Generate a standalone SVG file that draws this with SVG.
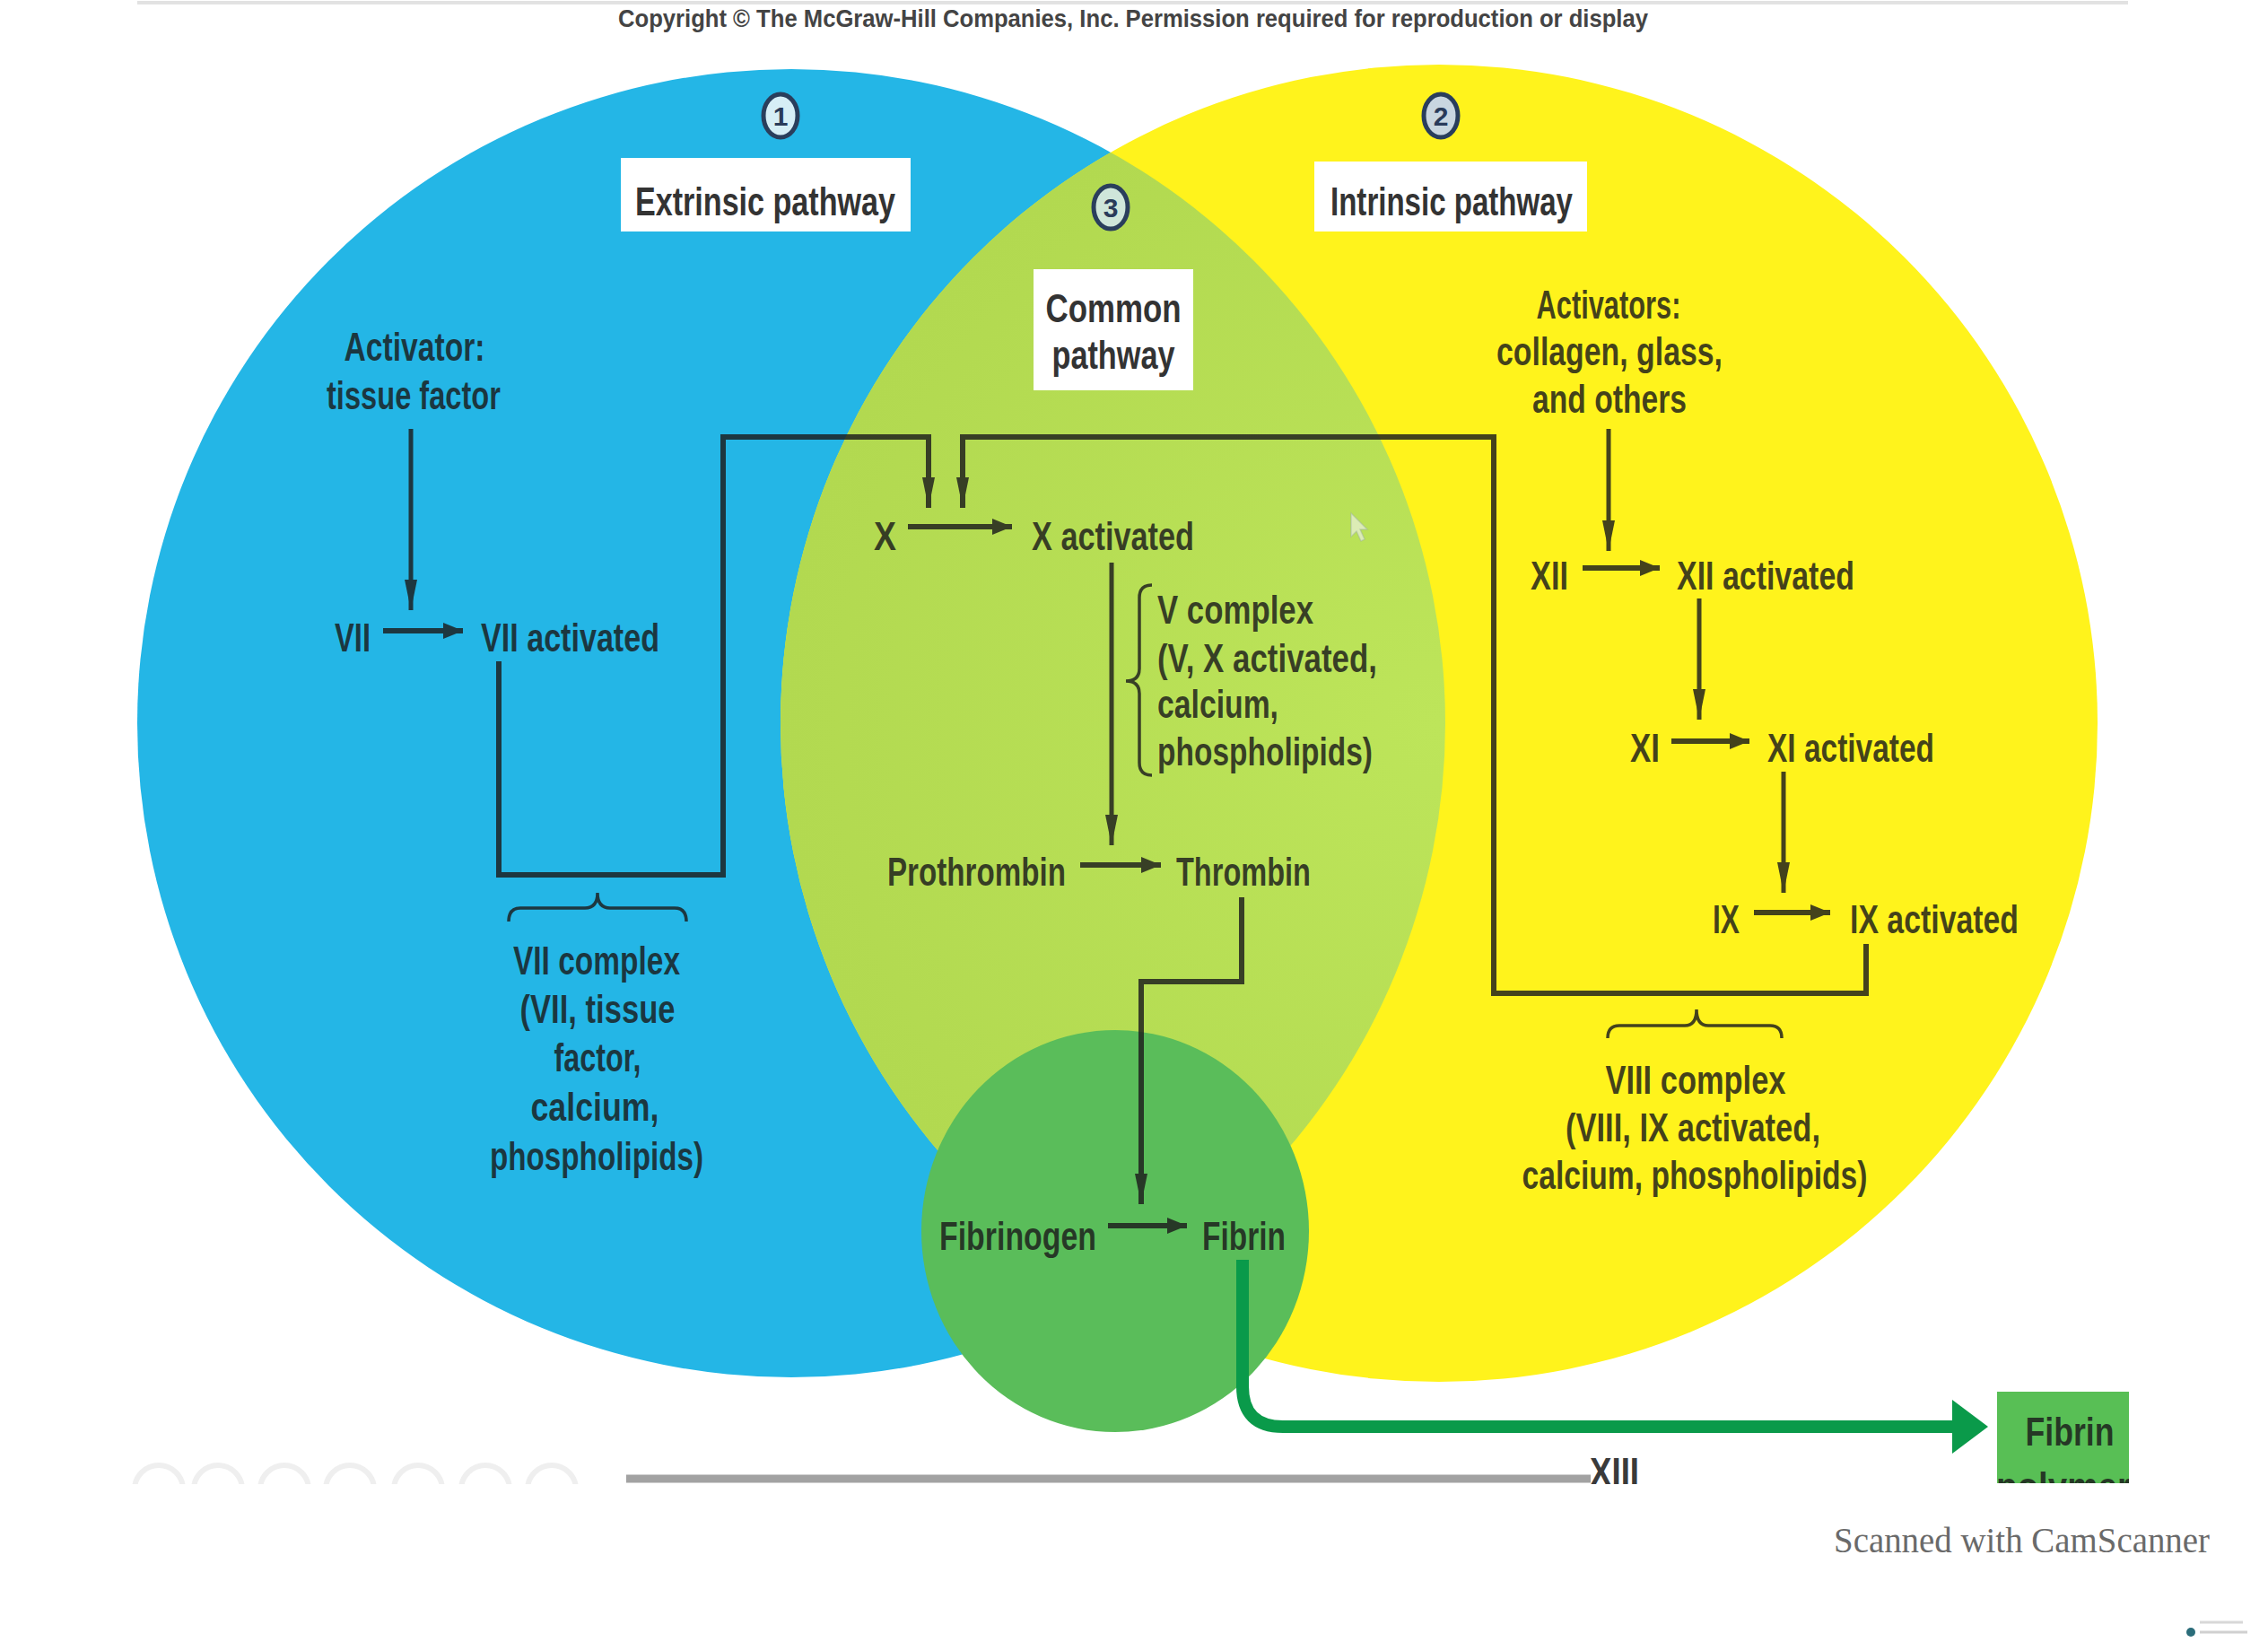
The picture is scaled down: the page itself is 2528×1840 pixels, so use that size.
<svg xmlns="http://www.w3.org/2000/svg" width="2528" height="1840" viewBox="0 0 2528 1840">
<defs>
<style>
.t{font-family:"Liberation Sans Narrow","Liberation Sans",Arial,sans-serif;font-size:44px;font-weight:bold;fill:#1a1a1a;fill-opacity:0.82}
.h{font-family:"Liberation Sans Narrow","Liberation Sans",Arial,sans-serif;font-size:44px;font-weight:bold;fill:#333}
.num{font-family:"Liberation Sans",Arial,sans-serif;font-size:30px;font-weight:bold;fill:#2a3b5a}
.c{text-anchor:middle}
.ln{fill:none;stroke:#1c1c1c;stroke-width:6}
.lv{fill:none;stroke:#1c1c1c;stroke-width:5}
.br{fill:none;stroke:#1c1c1c;stroke-width:3.5}
.badge{stroke:#2a3e5c;stroke-width:5}
</style>
<marker id="ah" markerUnits="userSpaceOnUse" markerWidth="22" markerHeight="18" refX="22" refY="9" orient="auto"><path d="M0,0 L22,9 L0,18 z" fill="#1c1c1c"/></marker>
<marker id="av" markerUnits="userSpaceOnUse" markerWidth="34" markerHeight="14" refX="34" refY="7" orient="auto"><path d="M0,0 L34,7 L0,14 z" fill="#1c1c1c"/></marker>
<clipPath id="blueclip"><circle cx="882" cy="806" r="729"/></clipPath>
<clipPath id="slideclip"><rect x="0" y="0" width="2528" height="1654"/></clipPath>
<clipPath id="boxclip"><rect x="2226" y="1551" width="147" height="102"/></clipPath>
<radialGradient id="lensg" cx="0.5" cy="0.5" r="0.5"><stop offset="0" stop-color="#bde55a"/><stop offset="1" stop-color="#b2d950"/></radialGradient>
</defs>
<rect width="2528" height="1840" fill="#ffffff"/>
<line x1="153" y1="3" x2="2372" y2="3" stroke="#e2e2e2" stroke-width="4"/>

<g id="background">
<circle cx="882" cy="806" r="729" fill="#24b6e6"/>
<circle cx="1604" cy="806" r="734" fill="#fff31c"/>
<circle cx="1604" cy="806" r="734" fill="url(#lensg)" clip-path="url(#blueclip)"/>
<ellipse cx="1243" cy="1372" rx="216" ry="224" fill="#5abd5a"/>
</g>

<g id="copyright"><text x="1263" y="30" class="c" style="font-family:'Liberation Sans Narrow','Liberation Sans',Arial,sans-serif;font-size:28px;font-weight:bold;fill:#444" textLength="1148" lengthAdjust="spacingAndGlyphs">Copyright © The McGraw-Hill Companies, Inc. Permission required for reproduction or display</text></g>

<g id="badge1"><ellipse cx="870" cy="129" rx="19" ry="24" fill="#d6eef6" class="badge"/><text x="870" y="140" class="num c">1</text></g>
<g id="badge2"><ellipse cx="1606" cy="129" rx="19" ry="24" fill="#c9d6e0" class="badge"/><text x="1606" y="140" class="num c">2</text></g>
<g id="badge3"><ellipse cx="1238" cy="231" rx="19" ry="24" fill="#cfe6da" class="badge"/><text x="1238" y="242" class="num c">3</text></g>

<g id="extrinsic-label"><rect x="692" y="176" width="323" height="82" fill="#fff"/><text x="853" y="240" class="h c" textLength="290" lengthAdjust="spacingAndGlyphs">Extrinsic pathway</text></g>
<g id="intrinsic-label"><rect x="1465" y="180" width="304" height="78" fill="#fff"/><text x="1618" y="240" class="h c" textLength="270" lengthAdjust="spacingAndGlyphs">Intrinsic pathway</text></g>
<g id="common-label"><rect x="1152" y="300" width="178" height="135" fill="#fff"/><text x="1241" y="359" class="h c" textLength="151" lengthAdjust="spacingAndGlyphs">Common</text><text x="1241" y="411" class="h c" textLength="137" lengthAdjust="spacingAndGlyphs">pathway</text></g>

<g id="activator-tf"><text x="462" y="402" class="t c" textLength="157" lengthAdjust="spacingAndGlyphs">Activator:</text><text x="461" y="456" class="t c" textLength="194" lengthAdjust="spacingAndGlyphs">tissue factor</text></g>
<g id="f7"><text x="373" y="726" class="t" textLength="40" lengthAdjust="spacingAndGlyphs">VII</text></g>
<g id="f7a"><text x="536" y="726" class="t" textLength="199" lengthAdjust="spacingAndGlyphs">VII activated</text></g>
<g id="vii-complex"><text x="665" y="1086" class="t c" textLength="186" lengthAdjust="spacingAndGlyphs">VII complex</text><text x="666" y="1140" class="t c" textLength="173" lengthAdjust="spacingAndGlyphs">(VII, tissue</text><text x="666" y="1194" class="t c" textLength="97" lengthAdjust="spacingAndGlyphs">factor,</text><text x="663" y="1249" class="t c" textLength="143" lengthAdjust="spacingAndGlyphs">calcium,</text><text x="665" y="1304" class="t c" textLength="238" lengthAdjust="spacingAndGlyphs">phospholipids)</text></g>

<g id="f10"><text x="974" y="613" class="t" textLength="25" lengthAdjust="spacingAndGlyphs">X</text></g>
<g id="f10a"><text x="1150" y="613" class="t" textLength="181" lengthAdjust="spacingAndGlyphs">X activated</text></g>
<g id="v-complex"><text x="1290" y="695" class="t" textLength="174" lengthAdjust="spacingAndGlyphs">V complex</text><text x="1290" y="749" class="t" textLength="245" lengthAdjust="spacingAndGlyphs">(V, X activated,</text><text x="1290" y="800" class="t" textLength="135" lengthAdjust="spacingAndGlyphs">calcium,</text><text x="1290" y="853" class="t" textLength="240" lengthAdjust="spacingAndGlyphs">phospholipids)</text></g>
<g id="prothrombin"><text x="989" y="987" class="t" textLength="199" lengthAdjust="spacingAndGlyphs">Prothrombin</text></g>
<g id="thrombin"><text x="1311" y="987" class="t" textLength="150" lengthAdjust="spacingAndGlyphs">Thrombin</text></g>
<g id="fibrinogen"><text x="1047" y="1393" class="t" textLength="175" lengthAdjust="spacingAndGlyphs">Fibrinogen</text></g>
<g id="fibrin"><text x="1340" y="1393" class="t" textLength="93" lengthAdjust="spacingAndGlyphs">Fibrin</text></g>

<g id="activators-in"><text x="1793" y="355" class="t c" textLength="161" lengthAdjust="spacingAndGlyphs">Activators:</text><text x="1794" y="407" class="t c" textLength="252" lengthAdjust="spacingAndGlyphs">collagen, glass,</text><text x="1794" y="460" class="t c" textLength="172" lengthAdjust="spacingAndGlyphs">and others</text></g>
<g id="f12"><text x="1706" y="657" class="t" textLength="42" lengthAdjust="spacingAndGlyphs">XII</text></g>
<g id="f12a"><text x="1869" y="657" class="t" textLength="198" lengthAdjust="spacingAndGlyphs">XII activated</text></g>
<g id="f11"><text x="1817" y="849" class="t" textLength="33" lengthAdjust="spacingAndGlyphs">XI</text></g>
<g id="f11a"><text x="1970" y="849" class="t" textLength="186" lengthAdjust="spacingAndGlyphs">XI activated</text></g>
<g id="f9"><text x="1909" y="1040" class="t" textLength="30" lengthAdjust="spacingAndGlyphs">IX</text></g>
<g id="f9a"><text x="2062" y="1040" class="t" textLength="188" lengthAdjust="spacingAndGlyphs">IX activated</text></g>
<g id="viii-complex"><text x="1890" y="1219" class="t c" textLength="201" lengthAdjust="spacingAndGlyphs">VIII complex</text><text x="1887" y="1272" class="t c" textLength="284" lengthAdjust="spacingAndGlyphs">(VIII, IX activated,</text><text x="1889" y="1325" class="t c" textLength="385" lengthAdjust="spacingAndGlyphs">calcium, phospholipids)</text></g>

<g id="connectors">
<g opacity="0.82">
<path class="lv" d="M458,478 V680" marker-end="url(#av)"/>
<path class="ln" d="M427,703 H516" marker-end="url(#ah)"/>
<path class="ln" d="M556,737 V975 H806 V487 H1035 V566" marker-end="url(#av)"/>
<path class="ln" d="M2080,1052 V1107 H1665 V487 H1073 V566" marker-end="url(#av)"/>
<path class="ln" d="M1012,587 H1128" marker-end="url(#ah)"/>
<path class="lv" d="M1239,627 V942" marker-end="url(#av)"/>
<path class="ln" d="M1204,964 H1294" marker-end="url(#ah)"/>
<path class="ln" d="M1384,1000 V1094 H1272 V1342" marker-end="url(#av)"/>
<path class="ln" d="M1235,1366 H1323" marker-end="url(#ah)"/>
<path class="lv" d="M1793,478 V614" marker-end="url(#av)"/>
<path class="ln" d="M1764,633 H1850" marker-end="url(#ah)"/>
<path class="lv" d="M1894,667 V802" marker-end="url(#av)"/>
<path class="ln" d="M1863,826 H1950" marker-end="url(#ah)"/>
<path class="lv" d="M1988,860 V995" marker-end="url(#av)"/>
<path class="ln" d="M1955,1017 H2040" marker-end="url(#ah)"/>
<path class="br" d="M567,1027 Q567,1012 580,1012 L652,1012 Q666,1012 666,995 Q666,1012 680,1012 L752,1012 Q765,1012 765,1027"/>
<path class="br" d="M1792,1157 Q1792,1143 1805,1143 L1878,1143 Q1891,1143 1891,1125 Q1891,1143 1904,1143 L1973,1143 Q1986,1143 1986,1157"/>
<path class="br" d="M1284,652 Q1270,652 1270,666 L1270,745 Q1270,759 1255,759 Q1270,759 1270,773 L1270,850 Q1270,864 1284,864"/>
</g>
<path d="M1385,1404 V1545 Q1385,1590 1430,1590 H2182" fill="none" stroke="#0a9a4a" stroke-width="14"/>
<path d="M2176,1560 L2216,1590 L2176,1620 z" fill="#0a9a4a"/>
</g>

<g id="fibrin-polymer"><rect x="2226" y="1551" width="147" height="102" fill="#58bf55"/><g clip-path="url(#boxclip)"><text x="2307" y="1611" class="t c" textLength="99" lengthAdjust="spacingAndGlyphs">Fibrin</text><text x="2300" y="1672" class="t c" textLength="150" lengthAdjust="spacingAndGlyphs">polymer</text></g></g>

<g id="player-bar" clip-path="url(#slideclip)">
<line x1="698" y1="1648" x2="1773" y2="1648" stroke="#a2a2a2" stroke-width="9"/>
<text x="1772" y="1656" style="font-family:'Liberation Sans Narrow','Liberation Sans',Arial,sans-serif;font-size:44px;font-weight:bold;fill:#3a3a3a" textLength="55" lengthAdjust="spacingAndGlyphs">XIII</text>
<g fill="none" stroke="#efefef" stroke-width="6">
<path d="M150,1660 A27,27 0 0 1 204,1660"/>
<path d="M216,1660 A27,27 0 0 1 270,1660"/>
<path d="M290,1660 A27,27 0 0 1 344,1660"/>
<path d="M363,1660 A27,27 0 0 1 417,1660"/>
<path d="M439,1660 A27,27 0 0 1 493,1660"/>
<path d="M514,1660 A27,27 0 0 1 568,1660"/>
<path d="M588,1660 A27,27 0 0 1 642,1660"/>
</g>
</g>

<g id="cursor"><path d="M1506,572 L1506,598 L1512,592 L1517,603 L1521,601 L1516,590 L1524,590 z" fill="#f4f4f4" fill-opacity="0.6" stroke="#9aa" stroke-opacity="0.4" stroke-width="1.5"/></g>

<g id="watermark"><text x="2044" y="1730" style="font-family:'Liberation Serif','Times New Roman',serif;font-size:40px;fill:#6a6a6a" textLength="419" lengthAdjust="spacingAndGlyphs">Scanned with CamScanner</text>
<circle cx="2442" cy="1819" r="5" fill="#2b6d7a"/><line x1="2452" y1="1808" x2="2500" y2="1808" stroke="#d8d8d8" stroke-width="3"/><line x1="2452" y1="1819" x2="2505" y2="1819" stroke="#d0d0d0" stroke-width="3"/></g>
</svg>
